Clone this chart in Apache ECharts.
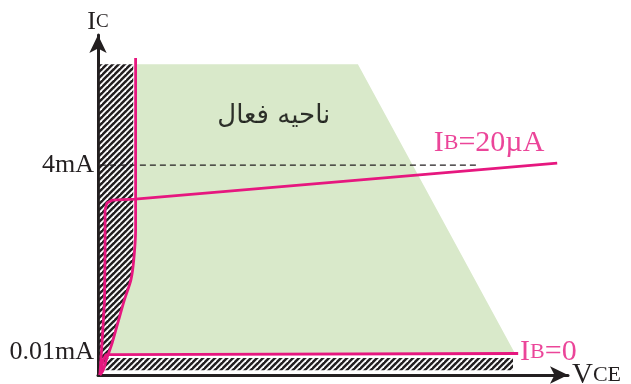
<!DOCTYPE html>
<html><head><meta charset="utf-8">
<script src="https://cdn.jsdelivr.net/npm/echarts@6/dist/echarts.min.js"></script>
<style>html,body{margin:0;padding:0;background:#fff}#c{width:631px;height:384px}</style>
</head><body><div id="c"></div>
<script>
// Schematic units (x 0..100, y 0..98)
const yTickValues = [6.6, 60.5];
const yTickLabels = ['0.01mA', '4mA'];
const saturationCurve = [[8.0,91.4],[8.0,41.8],[7.6,33.1],[7.0,27.4],[5.6,21.6],[4.4,15.9],[3.0,9.2],[1.9,4.9],[1.1,1.4],[0.4,0]];
const ib20Curve = [[0.4,0],[0.9,10.1],[1.4,21.6],[1.5,36.0],[1.5,47.6],[1.9,49.6],[3.0,50.4],[7.9,50.7],[97.7,61.1]];
const ib0Curve = [[0.4,0],[1.1,4.3],[1.7,5.9],[3.0,5.9],[89.4,6.2]];
const activeRegion = [[8.0,89.6],[55.3,89.6],[88.9,5.8],[1.9,5.8],[3.0,9.2],[4.4,15.9],[5.6,21.6],[7.0,27.4],[7.6,33.1],[8.0,41.8]];
const saturationRegion = [[0.4,89.6],[7.5,89.6],[7.5,33.1],[7.0,27.4],[5.6,21.6],[4.4,15.9],[3.0,9.2],[1.9,4.9],[1.1,1.4],[0.4,0]];
const cutoffRegion = [[0.4,1.4],[88.3,1.4],[88.3,4.9],[0.4,4.9]];
const dashedLine = [[0.4,60.5],[80.6,60.5]];
const labelIB20 = [83.2, 66.9];
const labelIB0 = [89.8, 6.6];
const labelActive = [37.4, 74.6];

const PINK = '#e6177f', INK = '#231f20', GREEN = '#d9e9ca';
const SERIF = '"Liberation Serif", "DejaVu Serif", serif';

// hatch pattern
const pc = document.createElement('canvas');
pc.width = 6; pc.height = 6;
const g = pc.getContext('2d');
g.fillStyle = INK; g.fillRect(0,0,6,6);
g.strokeStyle = '#fff'; g.lineWidth = 1.8;
g.beginPath(); g.moveTo(-1,7); g.lineTo(7,-1); g.stroke();
g.beginPath(); g.moveTo(-1,1); g.lineTo(1,-1); g.stroke();
g.beginPath(); g.moveTo(5,7); g.lineTo(7,5); g.stroke();
const hatch = {image: pc, repeat: 'repeat'};

function polySeries(points, fill, z) {
  return {
    type: 'custom', coordinateSystem: 'cartesian2d', z: z, silent: true,
    data: points,
    renderItem: function (params, api) {
      if (params.dataIndex !== 0) return null;
      return {type: 'polygon', shape: {points: points.map(p => api.coord(p))}, style: {fill: fill}};
    }
  };
}
function lineSeries(points, color, width, type, z, smooth) {
  return {type: 'line', data: points, symbol: 'none', silent: true, z: z, smooth: smooth || false,
    lineStyle: {color: color, width: width, type: type}};
}
function textSeries(point, text, rich, align, extra) {
  return {type: 'scatter', data: [point], symbolSize: 0, silent: true, z: 10,
    itemStyle: {color: 'transparent'},
    label: Object.assign({show: true, position: 'inside', formatter: text, align: align, verticalAlign: 'middle',
      textBorderWidth: 0, rich: rich}, extra || {})};
}
const subRich = {
  big: {fontFamily: SERIF, fontSize: 30, color: PINK, textBorderWidth: 0},
  sm: {fontFamily: SERIF, fontSize: 22, color: PINK, textBorderWidth: 0}
};

const chart = echarts.init(document.getElementById('c'), null, {renderer: 'canvas'});
chart.setOption({
  animation: false,
  grid: {left: 98, top: 35, width: 470, height: 340, outerBoundsMode: 'none', containLabel: false},
  xAxis: {type: 'value', min: 0, max: 100,
    name: '{big|V}{sm|CE}', nameLocation: 'end', nameGap: 4,
    nameTextStyle: {rich: {big: {fontFamily: SERIF, fontSize: 29, color: INK}, sm: {fontFamily: SERIF, fontSize: 22, color: INK}}},
    axisLine: {show: true, symbol: ['none','arrow'], symbolSize: [13,18], lineStyle: {color: INK, width: 3}},
    axisTick: {show: false}, axisLabel: {show: false}, splitLine: {show: false}},
  yAxis: {type: 'value', min: 0, max: 98,
    name: '{big|I}{sm|C}', nameLocation: 'end', nameGap: 0,
    nameTextStyle: {rich: {big: {fontFamily: SERIF, fontSize: 26, color: INK}, sm: {fontFamily: SERIF, fontSize: 19, color: INK}}},
    axisLine: {show: true, symbol: ['none','arrow'], symbolSize: [13,18], lineStyle: {color: INK, width: 3}},
    axisTick: {show: false}, splitLine: {show: false},
    axisLabel: {customValues: yTickValues, formatter: v => yTickLabels[yTickValues.indexOf(v)],
      fontFamily: SERIF, fontSize: 26, color: INK, margin: 4}},
  series: [
    polySeries(activeRegion, GREEN, 1),
    polySeries(saturationRegion, hatch, 2),
    polySeries(cutoffRegion, hatch, 2),
    lineSeries(dashedLine, INK, 1.1, [6,4], 3),
    lineSeries(saturationCurve, PINK, 2.8, 'solid', 4, 0.3),
    lineSeries(ib0Curve, PINK, 2.8, 'solid', 4),
    lineSeries(ib20Curve, PINK, 2.8, 'solid', 4),
    textSeries(labelIB20, '{big|I}{sm|B}{big|=20µA}', subRich, 'center'),
    textSeries(labelIB0, '{big|I}{sm|B}{big|=0}', subRich, 'left'),
    textSeries(labelActive, 'ناحیه فعال', {}, 'center',
      {fontFamily: '"DejaVu Sans", sans-serif', fontSize: 26, color: '#000'})
  ]
});
</script></body></html>
